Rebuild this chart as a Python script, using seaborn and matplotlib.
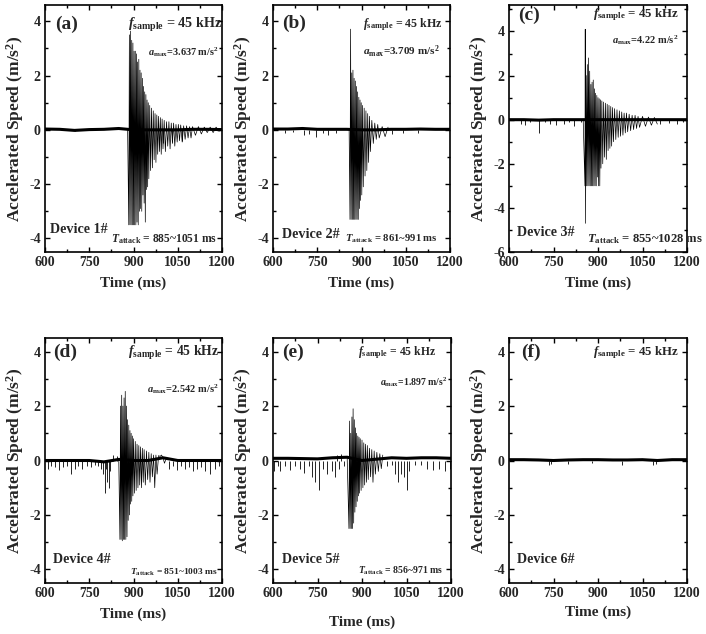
import numpy as np
import pandas as pd
import matplotlib
matplotlib.use('Agg')
import matplotlib.pyplot as plt
import seaborn as sns
from matplotlib.ticker import MultipleLocator

sns.set_theme(style='ticks')
plt.rcParams['font.family'] = ['Liberation Serif', 'DejaVu Serif']
plt.rcParams['font.weight'] = 'bold'
plt.rcParams['axes.labelweight'] = 'bold'
plt.rcParams['axes.unicode_minus'] = False
plt.rcParams['mathtext.fontset'] = 'custom'
plt.rcParams['mathtext.rm'] = 'Liberation Serif:bold'
plt.rcParams['mathtext.bf'] = 'Liberation Serif:bold'
plt.rcParams['mathtext.it'] = 'Liberation Serif:italic:bold'

# ---- 冲击段振荡峰值 ----
bt_a = [880, 884, 886, 888, 890, 892, 894, 896, 898, 900, 902, 904, 906, 908, 910, 912, 914, 916, 918, 920,
        922, 924, 926, 928, 930, 932, 934, 936, 938, 940, 942, 944, 946, 948, 950, 952, 955, 958, 961, 964,
        967, 970, 973, 976, 979, 982, 985, 988, 991, 994, 997, 1000, 1004, 1008, 1012, 1016, 1020, 1024,
        1028, 1032, 1036, 1040, 1044, 1048, 1052, 1056, 1060, 1065, 1070, 1075, 1080, 1085, 1090, 1095,
        1100, 1110, 1120, 1130, 1140, 1150, 1160, 1170, 1180, 1190, 1200]
bv_a = [0.04, -3.5, 3.5, -3.5, 3.64, -3.5, 3.3, -3.5, 3.2, -3.5, 2.9, -3.5, 2.9, -3.5, 2.8, -3.4, 2.5, -3.5,
        2.6, -3.0, 2.2, -2.9, 2.1, -3.0, 1.9, -2.4, 1.6, -2.7, 1.4, -3.4, 1.3, -2.2, 1.1, -2.1, 1.0, -1.8,
        0.9, -1.5, 0.8, -1.4, 0.7, -1.1, 0.6, -1.2, 0.55, -0.9, 0.5, -0.8, 0.45, -0.9, 0.4, -0.7, 0.35,
        -0.8, 0.3, -0.6, 0.3, -0.7, 0.25, -0.5, 0.25, -0.6, 0.2, -0.45, 0.2, -0.4, 0.18, -0.45, 0.15,
        -0.35, 0.15, -0.3, 0.12, -0.3, 0.12, -0.2, 0.12, -0.15, 0.1, -0.1, 0.1, -0.1, 0.1, -0.05, 0.06]

bt_b = [858, 861, 863, 865, 867, 869, 871, 873, 875, 877, 879, 881, 883, 885, 887, 889, 891, 893, 895, 897,
        899, 901, 903, 906, 909, 912, 915, 918, 921, 924, 927, 930, 935, 940, 945, 950, 955, 960, 970, 980,
        990]
bv_b = [0.05, -3.3, 3.71, -3.3, 2.1, -3.3, 2.2, -3.3, 1.9, -3.3, 1.8, -3.3, 1.6, -3.3, 1.4, -3.3, 1.2, -2.9,
        1.1, -2.6, 1.0, -2.4, 0.9, -2.1, 0.8, -1.7, 0.7, -1.5, 0.6, -1.2, 0.5, -0.8, 0.35, -0.5, 0.25,
        -0.35, 0.2, -0.3, 0.12, -0.25, 0.1]

bt_c = [850, 856, 857, 858, 860, 862, 864, 866, 868, 870, 872, 874, 876, 878, 880, 882, 884, 886, 888, 890,
        892, 894, 896, 898, 900, 902, 904, 906, 908, 910, 913, 916, 919, 922, 925, 928, 931, 934, 937, 940,
        943, 946, 949, 952, 956, 960, 964, 968, 972, 976, 980, 984, 988, 992, 996, 1000, 1005, 1010, 1015,
        1020, 1025, 1030, 1035, 1040, 1050, 1060, 1070, 1080, 1090, 1100]
bv_c = [0.03, -3.0, 4.1, -4.7, 2.0, -3.0, 2.5, -3.0, 2.8, -3.0, 2.2, -3.0, 1.6, -3.0, 1.7, -3.0, 1.8, -3.0,
        1.4, -3.0, 1.2, -3.0, 1.1, -2.6, 1.0, -3.0, 0.95, -3.0, 0.9, -2.2, 0.85, -2.0, 0.8, -1.7, 0.75,
        -1.8, 0.7, -1.4, 0.65, -1.3, 0.6, -1.2, 0.55, -1.0, 0.5, -0.9, 0.45, -0.8, 0.4, -0.75, 0.35, -0.7,
        0.3, -0.6, 0.3, -0.55, 0.25, -0.5, 0.2, -0.45, 0.2, -0.4, 0.15, -0.35, 0.15, -0.3, 0.12, -0.25,
        0.1, -0.2]

bt_d = [850, 854, 856, 858, 860, 862, 864, 866, 868, 870, 872, 874, 876, 878, 880, 882, 884, 886, 888, 890,
        892, 894, 896, 898, 900, 903, 906, 909, 912, 915, 918, 921, 924, 927, 930, 933, 936, 940, 944, 948,
        952, 956, 960, 964, 968, 972, 976, 980, 985, 990, 995, 1000, 1005, 1010]
bv_d = [0.04, -2.9, 2.0, -2.9, 2.4, -2.95, 2.0, -2.9, 2.3, -2.9, 2.54, -2.9, 2.0, -2.8, 1.5, -2.2, 1.3,
        -2.0, 1.1, -1.6, 1.0, -1.5, 0.9, -1.3, 0.8, -1.2, 0.7, -1.1, 0.6, -1.0, 0.55, -0.9, 0.5, -1.0,
        0.45, -0.8, 0.4, -0.9, 0.35, -0.7, 0.3, -0.8, 0.25, -0.6, 0.2, -1.0, 0.2, -0.5, 0.18, 0.15, 0.2,
        0.1, -0.1, 0.05]

bt_e = [850, 856, 858, 860, 862, 864, 866, 868, 870, 872, 874, 876, 878, 880, 882, 884, 886, 888, 890, 892,
        894, 897, 900, 903, 906, 909, 912, 915, 918, 921, 925, 929, 933, 937, 941, 945, 950, 955, 960, 965,
        970]
bv_e = [0.1, -2.5, 1.45, -2.5, 1.0, -2.5, 1.6, -2.5, 1.9, -2.3, 1.5, -1.9, 1.2, -1.7, 1.0, -1.5, 0.9, -1.3,
        0.85, -1.2, 0.8, -1.1, 0.75, -1.0, 0.65, -0.9, 0.6, -0.8, 0.55, -0.7, 0.45, -0.6, 0.4, -0.8, 0.35,
        -0.5, 0.3, -0.4, 0.25, -0.3, 0.2]

bt_f = []
bv_f = []

# ---- 基线上的孤立尖峰 (时间, 幅值) ----
st_a = [700, 1000, 1030, 1065]
sv_a = [-0.06, -0.5, -0.45, -0.4]
st_b = [640, 668, 705, 722, 745, 768, 785, 812, 1005, 1040, 1090]
sv_b = [-0.1, -0.08, -0.2, -0.15, -0.25, -0.12, -0.2, -0.1, -0.15, -0.1, -0.1]
st_c = [640, 655, 672, 700, 722, 738, 760, 785, 803, 820, 842, 1110, 1140, 1165, 1185]
sv_c = [-0.2, -0.25, -0.1, -0.6, -0.1, -0.2, -0.25, -0.2, -0.1, -0.3, -0.1, -0.2, -0.15, -0.2, -0.1]
st_d = [610, 622, 633, 648, 662, 675, 688, 700, 712, 726, 741, 755, 768, 780, 790, 798, 804, 808, 811, 816,
        822, 832, 844, 1020, 1035, 1048, 1062, 1075, 1088, 1102, 1115, 1128, 1142, 1160, 1175, 1190]
sv_d = [-0.3, -0.2, -0.25, -0.35, -0.25, -0.2, -0.5, -0.3, -0.2, -0.3, -0.2, -0.25, -0.15, -0.2, -0.3, -0.5,
        -1.2, -0.3, -0.8, -1.0, -0.4, 0.2, 0.15, -0.3, -0.2, -0.35, -0.2, -0.3, -0.25, -0.4, -0.3, -0.25,
        -0.4, -0.5, -0.3, -0.2]
st_e = [605, 618, 625, 640, 658, 675, 692, 703, 720, 731, 742, 754, 768, 782, 798, 810, 816, 822, 830, 838,
        985, 1000, 1012, 1020, 1031, 1042, 1050, 1060, 1080, 1100, 1120, 1140, 1160, 1180, 1195]
sv_e = [-0.4, -0.2, -0.4, -0.2, -0.35, -0.2, -0.3, -0.45, -0.2, -0.6, -0.8, -1.1, -0.3, -0.5, -0.4, -0.6,
        0.2, -0.3, 0.25, -0.2, -0.2, -0.15, -0.5, -0.8, -0.5, -0.6, -1.1, -0.4, -0.15, -0.15, -0.3, -0.35,
        -0.3, -0.4, -0.3]
st_f = [735, 742, 800, 880, 980, 1085, 1095]
sv_f = [-0.15, -0.12, -0.14, -0.1, -0.15, -0.16, -0.12]

# ---- 基线噪声带中心 ----
t_base = [600, 650, 700, 750, 800, 850, 900, 950, 1000, 1050, 1100, 1150, 1200]
c_a = [0.03, 0.02, -0.02, 0.01, 0.02, 0.05, 0.0, 0.0, 0.0, 0.0, 0.02, 0.02, 0.01]
c_b = [0.03, 0.03, 0.05, 0.02, 0.02, 0.02, 0.0, 0.0, 0.02, 0.02, 0.03, 0.02, 0.02]
c_c = [0.0, 0.0, -0.02, 0.0, 0.0, 0.0, 0.0, 0.0, 0.0, 0.0, 0.0, 0.0, 0.0]
c_d = [0.0, 0.0, 0.0, 0.0, -0.05, 0.04, 0.0, 0.0, 0.1, 0.0, 0.0, 0.0, 0.0]
c_e = [0.08, 0.08, 0.07, 0.06, 0.1, 0.12, 0.0, 0.05, 0.1, 0.08, 0.1, 0.1, 0.08]
c_f = [0.03, 0.03, 0.02, 0.0, 0.02, 0.03, 0.03, 0.02, 0.02, 0.03, 0.0, 0.03, 0.03]

burst_t = [bt_a, bt_b, bt_c, bt_d, bt_e, bt_f]
burst_v = [bv_a, bv_b, bv_c, bv_d, bv_e, bv_f]
spike_t = [st_a, st_b, st_c, st_d, st_e, st_f]
spike_v = [sv_a, sv_b, sv_c, sv_d, sv_e, sv_f]
centers = [c_a, c_b, c_c, c_d, c_e, c_f]

panel_tags = ['(a)', '(b)', '(c)', '(d)', '(e)', '(f)']
devices = ['Device 1#', 'Device 2#', 'Device 3#', 'Device 4#', 'Device 5#', 'Device 6#']
amax = ['3.637', '3.709', '4.22', '2.542', '1.897', None]
attack = ['885~1051', '861~991', '855~1028', '851~1003', '856~971', None]
ylims = [(-4.5, 4.6), (-4.5, 4.6), (-6, 5.2), (-4.5, 4.5), (-4.5, 4.5), (-4.5, 4.5)]
yticks = [[-4, -2, 0, 2, 4], [-4, -2, 0, 2, 4], [-6, -4, -2, 0, 2, 4],
          [-4, -2, 0, 2, 4], [-4, -2, 0, 2, 4], [-4, -2, 0, 2, 4]]

# 版面位置 (像素 -> 比例)
W, H = 706, 634
lefts = [45, 273, 509, 45, 273, 509]
widths = [177, 177, 178, 177, 178, 178]
tops = [5, 5, 5, 338, 338, 338]
bottoms = [252, 252, 252, 583, 583, 583]
xlabelpad = [5, 5, 5, 5, 11, 4]

# 文字位置与字号 (axes 坐标)
tag_xy = [(0.056, 0.92), (0.05, 0.927), (0.05, 0.96), (0.045, 0.94), (0.05, 0.94), (0.07, 0.94)]
fs_xy = [(0.47, 0.92), (0.51, 0.92), (0.47, 0.96), (0.47, 0.94), (0.48, 0.94), (0.47, 0.94)]
fs_size = [10.2, 8.6, 9.3, 9.8, 8.4, 9.3]
am_xy = [(0.58, 0.81), (0.51, 0.81), (0.58, 0.86), (0.575, 0.79), (0.60, 0.82), None]
am_size = [7.4, 8.0, 7.5, 7.5, 7.0, None]
dev_xy = [(0.03, 0.09), (0.05, 0.07), (0.045, 0.077), (0.045, 0.094), (0.05, 0.094), (0.045, 0.095)]
ta_xy = [(0.97, 0.053), (0.93, 0.053), (1.09, 0.053), (0.977, 0.045), (0.955, 0.05), None]
ta_size = [8.3, 7.7, 9.1, 6.8, 7.0, None]

fig = plt.figure(figsize=(W / 100, H / 100), dpi=100)

for i in range(6):
    ax = fig.add_axes([lefts[i] / W, 1 - bottoms[i] / H, widths[i] / W, (bottoms[i] - tops[i]) / H])

    # 孤立尖峰
    ax.vlines(spike_t[i], 0, spike_v[i], color='black', lw=0.6)
    # 基线噪声带
    base = pd.DataFrame({'t': t_base, 'v': centers[i]})
    sns.lineplot(data=base, x='t', y='v', sort=False, estimator=None, color='black', lw=2.2, ax=ax)
    # 冲击振荡
    if len(burst_t[i]) > 0:
        df = pd.DataFrame({'t': burst_t[i], 'v': burst_v[i]})
        sns.lineplot(data=df, x='t', y='v', sort=False, estimator=None, color='black', lw=0.5, ax=ax)

    ax.set_xlim(600, 1200)
    ax.set_ylim(*ylims[i])
    ax.set_xticks([600, 750, 900, 1050, 1200])
    ax.set_yticks(yticks[i])
    ax.xaxis.set_minor_locator(MultipleLocator(75))
    ax.yaxis.set_minor_locator(MultipleLocator(1))
    ax.tick_params(which='both', direction='in', top=True, right=True, width=1.0, color='black')
    ax.tick_params(which='major', length=3.5, labelsize=10, pad=3)
    ax.tick_params(which='minor', length=2)
    for lab in ax.get_xticklabels() + ax.get_yticklabels():
        lab.set_fontweight('bold')
    for s in ax.spines.values():
        s.set_linewidth(1.2)
        s.set_color('black')
    ax.set_xlabel('Time (ms)', fontsize=11, fontweight='bold', labelpad=xlabelpad[i])
    ax.set_ylabel('Accelerated Speed (m/s$^2$)', fontsize=12.5, fontweight='bold', labelpad=2)

    ax.text(*tag_xy[i], panel_tags[i], transform=ax.transAxes, fontsize=14, fontweight='bold',
            ha='left', va='center')
    ax.text(*fs_xy[i], r'$f_{\mathrm{sample}}$ = 45 kHz', transform=ax.transAxes, fontsize=fs_size[i],
            fontweight='bold', ha='left', va='center')
    ax.text(*dev_xy[i], devices[i], transform=ax.transAxes, fontsize=10.2, fontweight='bold',
            ha='left', va='center')
    if amax[i] is not None:
        ax.text(*am_xy[i], r'$a_{\mathrm{max}}$=' + amax[i] + r' m/s$^2$', transform=ax.transAxes,
                fontsize=am_size[i], fontweight='bold', ha='left', va='center')
        ax.text(*ta_xy[i], r'$T_{\mathrm{attack}}$ = ' + attack[i] + ' ms', transform=ax.transAxes,
                fontsize=ta_size[i], fontweight='bold', ha='right', va='center', clip_on=False)

fig.savefig('out.png', dpi=100)
